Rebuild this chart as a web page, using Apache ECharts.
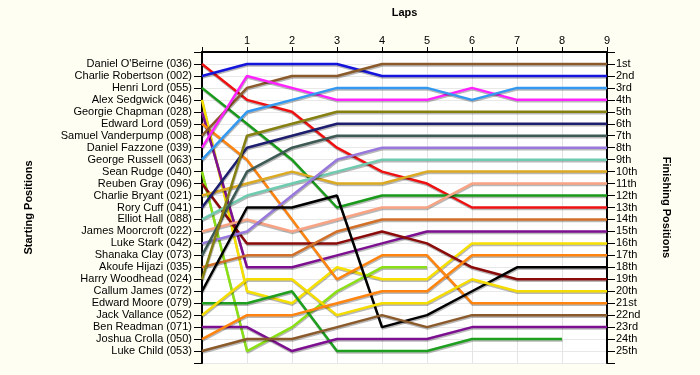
<!DOCTYPE html>
<html>
<head>
<meta charset="utf-8">
<script src="https://cdn.jsdelivr.net/npm/echarts@6/dist/echarts.min.js"></script>
<style>
html,body{margin:0;padding:0;background:#fefef2;}
#chart{width:700px;height:375px;}
</style>
</head>
<body>
<div id="chart"></div>
<script>
// Lap numbers (x axis ticks)
const laps = [0, 1, 2, 3, 4, 5, 6, 7, 8, 9];

// Starting grid (left axis labels, position 1..25)
const drivers = [
  "Daniel O'Beirne (036)", "Charlie Robertson (002)", "Henri Lord (055)", "Alex Sedgwick (046)",
  "Georgie Chapman (028)", "Edward Lord (059)", "Samuel Vanderpump (008)", "Daniel Fazzone (039)",
  "George Russell (063)", "Sean Rudge (040)", "Reuben Gray (096)", "Charlie Bryant (021)",
  "Rory Cuff (041)", "Elliot Hall (088)", "James Moorcroft (022)", "Luke Stark (042)",
  "Shanaka Clay (073)", "Akoufe Hijazi (035)", "Harry Woodhead (024)", "Callum James (072)",
  "Edward Moore (079)", "Jack Vallance (052)", "Ben Readman (071)", "Joshua Crolla (050)",
  "Luke Child (053)"
];

// Finishing position labels (right axis)
const finishLabels = ["1st","2nd","3rd","4th","5th","6th","7th","8th","9th","10th","11th","12th","13th",
  "14th","15th","16th","17th","18th","19th","20th","21st","22nd","23rd","24th","25th"];

// Race position of each driver at laps 0..9 (null = retired)
const danielOBeirne    = [1, 4, 5, 8, 10, 11, 13, 13, 13, 13];
const charlieRobertson = [2, 1, 1, 1, 2, 2, 2, 2, 2, 2];
const henriLord        = [3, 6, 9, 13, 12, 12, 12, 12, 12, 12];
const alexSedgwick     = [4, 20, 21, 18, 19, 19, 16, 16, 16, 16];
const georgieChapman   = [5, 18, 18, 17, 16, 15, 15, 15, 15, 15];
const edwardLord       = [6, 9, 14, 19, 17, 17, 21, 21, 21, 21];
const samuelVanderpump = [7, 3, 2, 2, 1, 1, 1, 1, 1, 1];
const danielFazzone    = [8, 2, 3, 4, 4, 4, 3, 4, 4, 4];
const georgeRussell    = [9, 5, 4, 3, 3, 3, 4, 3, 3, 3];
const seanRudge        = [10, 25, 23, 20, 18, 18, null, null, null, null];
const reubenGray       = [11, 16, 16, 16, 15, 16, 18, 19, 19, 19];
const charlieBryant    = [12, 11, 10, 11, 11, 10, 10, 10, 10, 10];
const roryCuff         = [13, 8, 7, 6, 6, 6, 6, 6, 6, 6];
const elliotHall       = [14, 12, 11, 10, 9, 9, 9, 9, 9, 9];
const jamesMoorcroft   = [15, 14, 15, 14, 13, 13, 11, 11, 11, 11];
const lukeStark        = [16, 15, 12, 9, 8, 8, 8, 8, 8, 8];
const shanakaClay      = [17, 10, 8, 7, 7, 7, 7, 7, 7, 7];
const akoufeHijazi     = [18, 17, 17, 15, 14, 14, 14, 14, 14, 14];
const harryWoodhead    = [19, 7, 6, 5, 5, 5, 5, 5, 5, 5];
const callumJames      = [20, 13, 13, 12, 23, 22, 20, 18, 18, 18];
const edwardMoore      = [21, 21, 20, 25, 25, 25, 24, 24, 24, null];
const jackVallance     = [22, 19, 19, 22, 21, 21, 19, 20, 20, 20];
const benReadman       = [23, 23, 25, 24, 24, 24, 23, 23, 23, 23];
const joshuaCrolla     = [24, 22, 22, 21, 20, 20, 17, 17, 17, 17];
const lukeChild        = [25, 24, 24, 23, 22, 23, 22, 22, 22, 22];

const driverPositions = [
  danielOBeirne, charlieRobertson, henriLord, alexSedgwick, georgieChapman, edwardLord,
  samuelVanderpump, danielFazzone, georgeRussell, seanRudge, reubenGray, charlieBryant,
  roryCuff, elliotHall, jamesMoorcroft, lukeStark, shanakaClay, akoufeHijazi, harryWoodhead,
  callumJames, edwardMoore, jackVallance, benReadman, joshuaCrolla, lukeChild
];

// Line colours (style)
const lineColors = [
  '#ee1111', '#1414dc', '#1a9a1a', '#f5e000', '#7d1090', '#ff8410', '#8b5a2b', '#ff22ff',
  '#3399f0', '#8ae014', '#8b0a0a', '#dcaa22', '#1e1e6e', '#6fcbb0', '#f8a383', '#9878dc',
  '#3e5a55', '#d2702a', '#858010', '#000000', '#1f9f1f', '#f5dc00', '#7d1090', '#ff8410',
  '#8b5a2b'
];

const series = drivers.map((name, i) => ({
  name: name,
  type: 'line',
  symbol: 'none',
  animation: false,
  data: laps
    .map((lap, j) => [lap, driverPositions[i][j]])
    .filter(d => d[1] !== null),
  lineStyle: {
    color: lineColors[i],
    width: 2.5,
    shadowColor: 'rgba(0,0,0,0.28)',
    shadowOffsetX: 0.5,
    shadowOffsetY: 1.5,
    shadowBlur: 0.5
  }
}));

const baseFont = { fontFamily: 'Liberation Sans, Arial, sans-serif', fontSize: 11, color: '#000' };

const chart = echarts.init(document.getElementById('chart'));
chart.setOption({
  backgroundColor: '#fefef2',
  animation: false,
  grid: {
    left: 202, right: 93, top: 52, bottom: 12,
    show: true, backgroundColor: '#ffffff', borderWidth: 0
  },
  xAxis: {
    type: 'value', position: 'top', min: 0, max: 9, interval: 1,
    name: 'Laps', nameLocation: 'middle', nameGap: 34,
    nameTextStyle: Object.assign({}, baseFont, { fontWeight: 'bold' }),
    axisLine: { show: true, lineStyle: { color: '#000', width: 2 } },
    axisTick: { show: true, length: 5, lineStyle: { color: '#000', width: 1 } },
    axisLabel: Object.assign({}, baseFont, { margin: 6, formatter: v => (v === 0 ? '' : String(v)) }),
    splitLine: { show: true, lineStyle: { color: '#e4e4e4', width: 1 } }
  },
  yAxis: [
    {
      type: 'value', position: 'left', inverse: true, min: 0, max: 26, interval: 1,
      name: 'Starting Positions', nameLocation: 'middle', nameGap: 168, nameRotate: 90,
      nameTextStyle: Object.assign({}, baseFont, { fontWeight: 'bold' }),
      axisLine: { show: true, lineStyle: { color: '#000', width: 2 } },
      axisTick: { show: true, length: 8, lineStyle: { color: '#000', width: 1 } },
      axisLabel: Object.assign({}, baseFont, { margin: 10, formatter: v => drivers[v - 1] || '' }),
      splitLine: { show: true, lineStyle: { color: '#e8e8e8', width: 1 } }
    },
    {
      type: 'value', position: 'right', inverse: true, min: 0, max: 26, interval: 1,
      name: 'Finishing Positions', nameLocation: 'middle', nameGap: 54, nameRotate: -90,
      nameTextStyle: Object.assign({}, baseFont, { fontWeight: 'bold' }),
      axisLine: { show: true, lineStyle: { color: '#000', width: 2 } },
      axisTick: { show: true, length: 8, lineStyle: { color: '#000', width: 1 } },
      axisLabel: Object.assign({}, baseFont, { margin: 9, formatter: v => finishLabels[v - 1] || '' }),
      splitLine: { show: false }
    }
  ],
  series: series
});
</script>
</body>
</html>
